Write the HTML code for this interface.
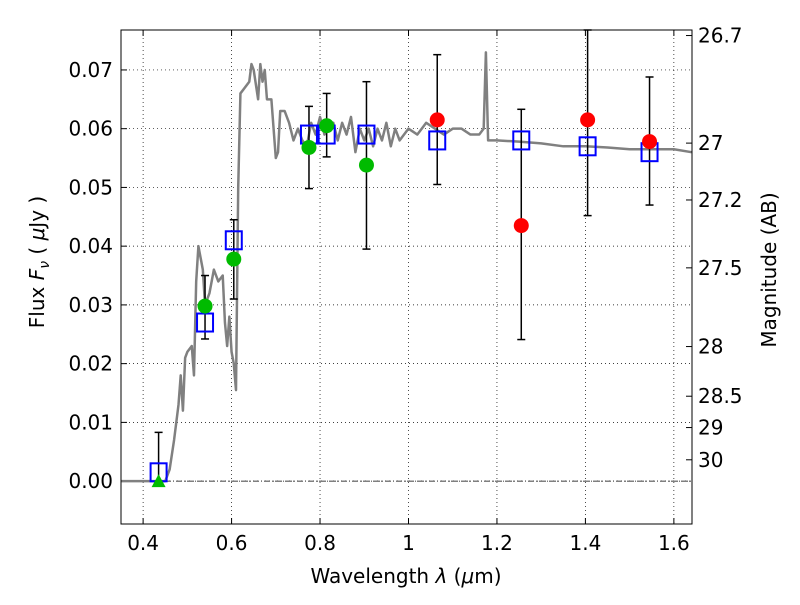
<!DOCTYPE html>
<html><head><meta charset="utf-8"><style>
body{margin:0;background:#fff;}
svg text{font-family:"DejaVu Sans","Liberation Sans",sans-serif;}
</style></head><body>
<svg id="chart" width="800" height="600" xmlns="http://www.w3.org/2000/svg"></svg>
<script>
const xTicks=[0.4,0.6,0.8,1.0,1.2,1.4,1.6];
const xTickLabels=["0.4","0.6","0.8","1","1.2","1.4","1.6"];
const yTicks=[0,0.01,0.02,0.03,0.04,0.05,0.06,0.07];
const yTickLabels=["0.00","0.01","0.02","0.03","0.04","0.05","0.06","0.07"];
const magTicks=[26.7,27,27.2,27.5,28,28.5,29,30];
const magTickLabels=["26.7","27","27.2","27.5","28","28.5","29","30"];
const specWave=[0.35,0.45,0.46,0.47,0.48,0.485,0.49,0.495,0.50,0.51,0.515,0.52,0.525,0.53,0.535,0.54,0.55,0.56,0.57,0.58,0.585,0.59,0.595,0.60,0.605,0.61,0.615,0.62,0.63,0.64,0.645,0.65,0.66,0.665,0.67,0.675,0.68,0.69,0.70,0.705,0.71,0.72,0.73,0.74,0.75,0.76,0.77,0.78,0.79,0.80,0.81,0.82,0.83,0.84,0.85,0.86,0.87,0.88,0.89,0.90,0.91,0.92,0.93,0.94,0.95,0.96,0.97,0.98,1.0,1.02,1.04,1.06,1.08,1.10,1.12,1.14,1.16,1.17,1.175,1.18,1.19,1.2,1.25,1.3,1.35,1.4,1.45,1.5,1.55,1.6,1.64];
const specFlux=[0,0,0.002,0.007,0.013,0.018,0.012,0.021,0.022,0.023,0.018,0.034,0.040,0.038,0.036,0.030,0.032,0.036,0.034,0.035,0.027,0.023,0.028,0.022,0.020,0.0155,0.050,0.066,0.067,0.068,0.071,0.070,0.065,0.071,0.068,0.070,0.065,0.065,0.055,0.056,0.063,0.063,0.061,0.058,0.060,0.058,0.057,0.061,0.059,0.062,0.059,0.060,0.061,0.058,0.061,0.059,0.062,0.056,0.060,0.058,0.060,0.057,0.060,0.058,0.061,0.057,0.060,0.058,0.060,0.059,0.061,0.060,0.059,0.060,0.060,0.059,0.059,0.060,0.073,0.058,0.058,0.058,0.0578,0.0575,0.057,0.057,0.0568,0.0565,0.0565,0.0565,0.056];
const sqWave=[0.435,0.54,0.605,0.775,0.815,0.905,1.065,1.255,1.405,1.545];
const sqFlux=[0.0015,0.027,0.041,0.059,0.059,0.059,0.058,0.058,0.057,0.056];
const errLow=[0.0,0.0242,0.031,0.0498,0.0552,0.0395,0.0505,0.0241,0.0452,0.047];
const errHigh=[0.0083,0.035,0.0445,0.0638,0.066,0.068,0.0726,0.0633,0.079,0.0688];
const greenWave=[0.54,0.605,0.775,0.815,0.905];
const greenFlux=[0.0298,0.0378,0.0568,0.0605,0.0538];
const redWave=[1.065,1.255,1.405,1.545];
const redFlux=[0.0615,0.0435,0.0615,0.0578];
const triWave=[0.435];
const triFlux=[0.0];

const L=121,R=692,T=30,B=524;
const x0=0.35,x1=1.641,y0=-0.0073,y1=0.0768;
const sx=v=>L+(v-x0)/(x1-x0)*(R-L);
const sy=v=>B-(v-y0)/(y1-y0)*(B-T);
const svg=document.getElementById('chart');
const NS="http://www.w3.org/2000/svg";
function mk(tag,attrs,parent){const e=document.createElementNS(NS,tag);for(const k in attrs)e.setAttribute(k,attrs[k]);(parent||svg).appendChild(e);return e;}
function txt(s,x,y,attrs){const e=mk('text',Object.assign({x:x,y:y,'font-size':20,fill:'#000'},attrs||{}));e.textContent=s;return e;}

// grid
xTicks.forEach((v,i)=>{
 const g=mk('line',{x1:sx(v),x2:sx(v),y1:T,y2:B,stroke:'#000','stroke-width':0.7,'stroke-dasharray':'1,3'});
 
 
 mk('line',{x1:sx(v),x2:sx(v),y1:B,y2:B-6,stroke:'#000'});
 mk('line',{x1:sx(v),x2:sx(v),y1:T,y2:T+6,stroke:'#000'});
 const t=txt(xTickLabels[i],sx(v),B+26,{'text-anchor':'middle'});
 
 
});
yTicks.forEach((v,i)=>{
 const g=mk('line',{x1:L,x2:R,y1:sy(v),y2:sy(v),stroke:'#000','stroke-width':0.7,'stroke-dasharray':'1,3'});
 
 
 mk('line',{x1:L,x2:L+6,y1:sy(v),y2:sy(v),stroke:'#000'});
 const t=txt(yTickLabels[i],L-8,sy(v)+7,{'text-anchor':'end'});
 
 
});
magTicks.forEach((m,i)=>{
 const f=Math.pow(10,(23.9-m)/2.5);
 mk('line',{x1:R,x2:R-6,y1:sy(f),y2:sy(f),stroke:'#000'});
 const t=txt(magTickLabels[i],R+6,sy(f)+7,{'text-anchor':'start'});
 
 
});
// zero line
mk('line',{x1:L,x2:R,y1:sy(0),y2:sy(0),stroke:'#000','stroke-width':0.8,'stroke-dasharray':'6,2,1,2'});

// spectrum
const sp=mk('polyline',{points:specWave.map((w,i)=>sx(w)+','+sy(specFlux[i])).join(' '),fill:'none',stroke:'#808080','stroke-width':2.5,'stroke-linejoin':'round'});



// error bars
sqWave.forEach((w,i)=>{
 const hi=Math.min(errHigh[i],y1);
 const e=mk('line',{x1:sx(w),x2:sx(w),y1:sy(errLow[i]),y2:sy(hi),stroke:'#000','stroke-width':1.5});
 
 
 mk('line',{x1:sx(w)-4,x2:sx(w)+4,y1:sy(errLow[i]),y2:sy(errLow[i]),stroke:'#000','stroke-width':1.5});
 mk('line',{x1:sx(w)-4,x2:sx(w)+4,y1:sy(hi),y2:sy(hi),stroke:'#000','stroke-width':1.5});
});
// blue squares
sqWave.forEach((w,i)=>{
 const r=mk('rect',{x:sx(w)-8,y:sy(sqFlux[i])-9,width:16,height:18,fill:'none',stroke:'#0000ff','stroke-width':2});
 
 
});
greenWave.forEach((w,i)=>{
 const c=mk('circle',{cx:sx(w),cy:sy(greenFlux[i]),r:7.5,fill:'#00bb00',stroke:'none'});
 
 
});
redWave.forEach((w,i)=>{
 const c=mk('circle',{cx:sx(w),cy:sy(redFlux[i]),r:7.5,fill:'#ff0000',stroke:'none'});
 
 
});
triWave.forEach((w,i)=>{
 const X=sx(w),Y=sy(triFlux[i]);
 const p=mk('polygon',{points:`${X},${Y-7} ${X-7},${Y+6} ${X+7},${Y+6}`,fill:'#00bb00'});
 
 
});

// frame
const fr=mk('rect',{x:L,y:T,width:R-L,height:B-T,fill:'none',stroke:'#000','stroke-width':1});



// axis titles
const xt=txt('',406,583,{'text-anchor':'middle'});
xt.innerHTML='Wavelength  <tspan font-style="italic">λ</tspan> (<tspan font-style="italic">μ</tspan>m)';
xt.setAttribute('xml:space','preserve');


const yt=txt('',0,0,{'text-anchor':'middle',transform:'translate(44,262) rotate(-90)'});
yt.setAttribute('xml:space','preserve');
yt.innerHTML='Flux  <tspan font-style="italic">F</tspan><tspan font-style="italic" font-size="14" dy="5">ν</tspan><tspan dy="-5">  ( </tspan><tspan font-style="italic">μ</tspan>Jy )';


const mt=txt('Magnitude (AB)',0,0,{'text-anchor':'middle',transform:'translate(776,270) rotate(-90)'});


</script>
</body></html>
